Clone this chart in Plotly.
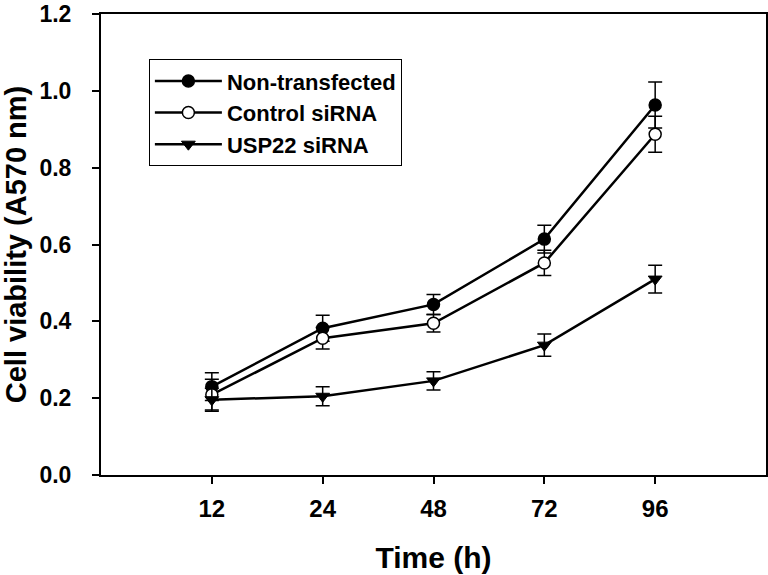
import plotly.graph_objects as go

times = ["12", "24", "48", "72", "96"]
non_transfected = [0.230, 0.382, 0.444, 0.614, 0.963]
non_transfected_err = [0.036, 0.034, 0.026, 0.036, 0.060]
control_sirna = [0.209, 0.356, 0.395, 0.552, 0.887]
control_sirna_err = [0.040, 0.028, 0.023, 0.033, 0.047]
usp22_sirna = [0.196, 0.205, 0.245, 0.338, 0.510]
usp22_sirna_err = [0.030, 0.025, 0.024, 0.029, 0.036]

FONT = "Liberation Sans, Arial, Helvetica, sans-serif"

def err(vals):
    return dict(type="data", array=vals, visible=True, color="black",
                thickness=1.5, width=7)

fig = go.Figure()
fig.add_trace(go.Scatter(
    x=times, y=non_transfected, name="Non-transfected", mode="lines+markers",
    line=dict(color="black", width=2.5),
    marker=dict(symbol="circle", size=12, color="black",
                line=dict(color="black", width=1.5)),
    error_y=err(non_transfected_err)))
fig.add_trace(go.Scatter(
    x=times, y=control_sirna, name="Control siRNA", mode="lines+markers",
    line=dict(color="black", width=2.5),
    marker=dict(symbol="circle", size=12, color="white",
                line=dict(color="black", width=1.5)),
    error_y=err(control_sirna_err)))
fig.add_trace(go.Scatter(
    x=times, y=usp22_sirna, name="USP22 siRNA", mode="lines+markers",
    line=dict(color="black", width=2.5),
    marker=dict(symbol="triangle-down", size=12, color="black",
                line=dict(color="black", width=1)),
    error_y=err(usp22_sirna_err)))

fig.update_layout(
    width=768, height=575,
    margin=dict(l=101, r=2, t=14, b=100, autoexpand=False),
    paper_bgcolor="white", plot_bgcolor="white",
    font=dict(family=FONT, color="black", size=20, weight="bold"),
    showlegend=True,
    legend=dict(x=0.072, y=0.902, xanchor="left", yanchor="top",
                bordercolor="black", borderwidth=1, bgcolor="white",
                font=dict(family=FONT, size=22, color="black", weight="bold"),
                tracegroupgap=0, itemwidth=67),
)
fig.update_xaxes(
    type="category", range=[-1, 5], automargin=False,
    showline=True, linecolor="black", linewidth=2, mirror=True,
    ticks="outside", ticklen=7, tickwidth=1.5, tickcolor="black",
    showgrid=False, zeroline=False,
    tickfont=dict(family=FONT, size=24, color="black", weight="bold"),
    ticklabelstandoff=4,
    title=dict(text="Time (h)", standoff=26,
               font=dict(family=FONT, size=30, color="black", weight="bold")),
)
fig.update_yaxes(
    range=[0, 1.2], dtick=0.2, tick0=0, tickformat=".1f", automargin=False,
    showline=True, linecolor="black", linewidth=2, mirror=True,
    ticks="outside", ticklen=7, tickwidth=1.5, tickcolor="black",
    showgrid=False, zeroline=False, ticklabeloverflow="allow",
    tickfont=dict(family=FONT, size=23, color="black", weight="bold"),
    ticklabelstandoff=16,
    title=dict(text="Cell viability (A570 nm)", standoff=8,
               font=dict(family=FONT, size=29, color="black", weight="bold")),
)

fig.write_html("out.html", config={"displayModeBar": False},
               post_script="document.body.style.margin='0';")
